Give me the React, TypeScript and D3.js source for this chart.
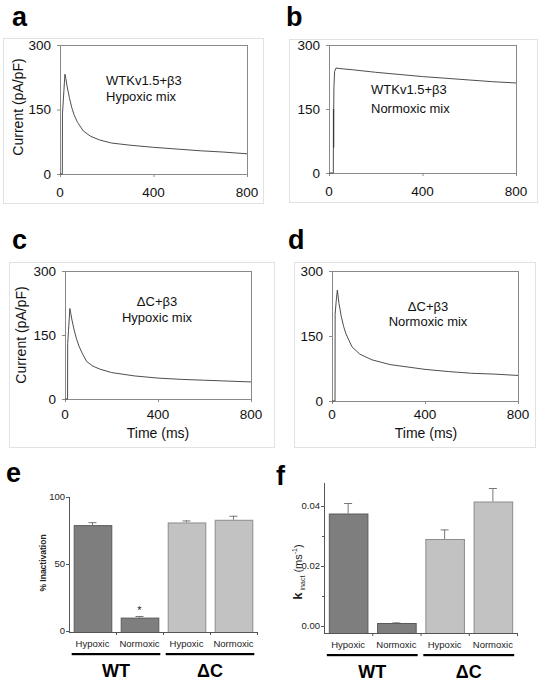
import React from "react";
import * as d3 from "d3";

const FONT = "'Liberation Sans', Arial, Helvetica, sans-serif";

// ---- Trace data (time ms, current pA/pF) ----
const traceA: [number, number][] = [
  [0, 0], [10, 0], [10.5, 140], [14, 170], [21, 232], [25, 222], [30, 205], [40, 178],
  [50, 155], [60, 138], [75, 120], [100, 100], [130, 88], [170, 79], [220, 72], [300, 67],
  [400, 62], [500, 58], [600, 54], [700, 51], [800, 47],
];
const traceB: [number, number][] = [
  [0, 0], [18.5, 0], [19, 150], [19.3, 60], [19.6, 150], [19.9, 60], [20.2, 150], [21, 200],
  [24, 238], [30, 246], [60, 244], [100, 242], [200, 236], [300, 231], [400, 226], [500, 222],
  [600, 218], [700, 214], [800, 211],
];
const traceC: [number, number][] = [
  [0, 0], [11, 0], [11.5, 130], [15, 160], [21, 212], [25, 200], [30, 185], [40, 160],
  [50, 140], [60, 124], [75, 106], [93, 88], [120, 77], [150, 70], [200, 62], [300, 54],
  [400, 49], [500, 46], [600, 44], [700, 42], [800, 40],
];
const traceD: [number, number][] = [
  [0, 0], [13, 0], [13.5, 200], [18, 230], [23, 256], [30, 225], [40, 195], [50, 172],
  [60, 155], [86, 125], [120, 108], [172, 95], [250, 84], [400, 73], [500, 68], [600, 64],
  [700, 62], [800, 59],
];
const traceXTicks = [0, 400, 800];
const traceYTicks = [0, 150, 300];

// ---- Bar data ----
const barCategories = ["WT-Hypoxic", "WT-Normoxic", "dC-Hypoxic", "dC-Normoxic"];
const barLabels = ["Hypoxic", "Normoxic", "Hypoxic", "Normoxic"];
const groupNames = ["WT", "ΔC"];
const inactMeans = [79, 10, 81, 83];
const inactErrs = [2.2, 1.2, 1.5, 3];
const inactTicks = [0, 50, 100];
const kMeans = [0.0375, 0.001, 0.029, 0.0415];
const kErrs = [0.0035, 0.0002, 0.0032, 0.0045];
const kTicks = [0, 0.02, 0.04];
const kMinorTicks = [0.01, 0.03];

type Rect = { x0: number; x1: number; y0: number; y1: number };

function TracePanel(props: {
  letter: string; lx: number; ly: number; box: Rect; plot: Rect; data: [number, number][];
  notes: string[]; noteX: number; noteY: number[]; noteAnchor: "start" | "middle";
  yTitle?: { x: number; y: number }; xTitle?: { x: number; y: number }; tickOff: number;
}) {
  const { letter, lx, ly, box, plot, data, notes, noteX, noteY, noteAnchor, yTitle, xTitle, tickOff } = props;
  const x = d3.scaleLinear().domain([0, 800]).range([plot.x0, plot.x1]);
  const y = d3.scaleLinear().domain([0, 300]).range([plot.y1, plot.y0]);
  const line = d3.line<[number, number]>().x((d) => x(d[0])).y((d) => y(d[1]));
  return (
    <g>
      <text x={lx} y={ly} fontSize={27} fontWeight="bold" fontFamily={FONT}>{letter}</text>
      <rect x={box.x0 + 0.5} y={box.y0 + 0.5} width={box.x1 - box.x0} height={box.y1 - box.y0}
        fill="none" stroke="#e2e2e2" strokeWidth={1} />
      <rect x={plot.x0 + 0.5} y={plot.y0 + 0.5} width={plot.x1 - plot.x0} height={plot.y1 - plot.y0}
        fill="none" stroke="#8a8a8a" strokeWidth={1} />
      {traceYTicks.map((t) => (
        <g key={"y" + t}>
          <line x1={plot.x0 - 3} x2={plot.x0} y1={y(t) + 0.5} y2={y(t) + 0.5} stroke="#8a8a8a" />
          <text x={plot.x0 - 9} y={y(t)} dy="0.36em" textAnchor="end" fontSize={13.5} fontFamily={FONT} fill="#111">{t}</text>
        </g>
      ))}
      {traceXTicks.map((t) => (
        <g key={"x" + t}>
          <line x1={x(t) + 0.5} x2={x(t) + 0.5} y1={plot.y1} y2={plot.y1 + 3} stroke="#8a8a8a" />
          <text x={x(t)} y={plot.y1 + tickOff} textAnchor="middle" fontSize={13.5} fontFamily={FONT} fill="#111">{t}</text>
        </g>
      ))}
      <path d={line(data) || ""} fill="none" stroke="#3a3a3a" strokeWidth={0.9} />
      {notes.map((n, i) => (
        <text key={i} x={noteX} y={noteY[i]} dy="0.36em" textAnchor={noteAnchor} fontSize={13} fontFamily={FONT} fill="#111">{n}</text>
      ))}
      {yTitle && (
        <text transform={`translate(${yTitle.x},${yTitle.y}) rotate(-90)`} textAnchor="middle" dy="0.36em"
          fontSize={14} fontFamily={FONT} fill="#111">Current (pA/pF)</text>
      )}
      {xTitle && (
        <text x={xTitle.x} y={xTitle.y} dy="0.36em" textAnchor="middle" fontSize={14} fontFamily={FONT} fill="#111">Time (ms)</text>
      )}
    </g>
  );
}

function BarPanel(props: {
  letter: string; lx: number; ly: number; xRange: [number, number]; axisY: number; axisTop: number;
  yDomain: [number, number]; yRange: [number, number]; means: number[]; errs: number[];
  ticks: number[]; minor?: number[]; fmt: (v: number) => string; yTitle: React.ReactNode;
  star?: boolean;
}) {
  const { letter, lx, ly, xRange, axisY, axisTop, yDomain, yRange, means, errs, ticks, minor, fmt, yTitle, star } = props;
  const x = d3.scaleBand<string>().domain(barCategories).range(xRange).paddingInner(0.2).paddingOuter(0.1);
  const y = d3.scaleLinear().domain(yDomain).range(yRange);
  const bw = x.bandwidth();
  const step = x.step();
  const fills = ["#7e7e7e", "#7e7e7e", "#c2c2c2", "#c2c2c2"];
  const strokes = ["#5a5a5a", "#5a5a5a", "#8c8c8c", "#8c8c8c"];
  const groups = [[0, 1], [2, 3]];
  return (
    <g fontFamily={FONT}>
      <text x={lx} y={ly} fontSize={27} fontWeight="bold">{letter}</text>
      {barCategories.map((c, i) => (
        <g key={c}>
          <line x1={x(c)! + bw / 2} x2={x(c)! + bw / 2} y1={y(means[i])} y2={y(means[i] + errs[i])} stroke="#777" />
          <line x1={x(c)! + bw / 2 - 4} x2={x(c)! + bw / 2 + 4} y1={y(means[i] + errs[i]) + 0.5} y2={y(means[i] + errs[i]) + 0.5} stroke="#777" />
          <rect x={x(c)! + 0.5} y={y(means[i]) + 0.5} width={bw} height={axisY - y(means[i])}
            fill={fills[i]} stroke={strokes[i]} strokeWidth={1} />
        </g>
      ))}
      <line x1={xRange[0] + 0.5} x2={xRange[0] + 0.5} y1={axisTop} y2={axisY + 0.5} stroke="#555" />
      <line x1={xRange[0]} x2={xRange[1]} y1={axisY + 0.5} y2={axisY + 0.5} stroke="#555" />
      {barCategories.map((c, i) => (
        <line key={"xt" + i} x1={xRange[0] + step * (i + 1) + 0.5} x2={xRange[0] + step * (i + 1) + 0.5}
          y1={axisY} y2={axisY + 3} stroke="#555" />
      ))}
      {ticks.map((t) => (
        <g key={"t" + t}>
          <line x1={xRange[0] - 3} x2={xRange[0]} y1={y(t) + 0.5} y2={y(t) + 0.5} stroke="#555" />
          <text x={xRange[0] - 4} y={y(t)} dy="0.36em" textAnchor="end" fontSize={9.5} fill="#222">{fmt(t)}</text>
        </g>
      ))}
      {(minor || []).map((t) => (
        <line key={"m" + t} x1={xRange[0] - 2} x2={xRange[0]} y1={y(t) + 0.5} y2={y(t) + 0.5} stroke="#555" />
      ))}
      {barLabels.map((l, i) => (
        <text key={"l" + i} x={x(barCategories[i])! + bw / 2} y={axisY + 12} dy="0.36em" textAnchor="middle" fontSize={9.5} fill="#222">{l}</text>
      ))}
      {groups.map((g, gi) => {
        const x0 = x(barCategories[g[0]])! - 2;
        const x1 = x(barCategories[g[1]])! + bw + 2;
        return (
          <g key={"g" + gi}>
            <rect x={x0} y={axisY + 21} width={x1 - x0} height={2.2} fill="#000" />
            <text x={(x0 + x1) / 2} y={axisY + 45} textAnchor="middle" fontSize={18} fontWeight="bold" fill="#000">{groupNames[gi]}</text>
          </g>
        );
      })}
      {star && (
        <text x={x(barCategories[1])! + bw / 2} y={y(means[1] + errs[1]) - 2} textAnchor="middle" fontSize={11} fill="#222">*</text>
      )}
      {yTitle}
    </g>
  );
}

export default function App() {
  return (
    <svg width={544} height={698} style={{ position: "absolute", left: 0, top: 0, background: "#fff" }}>
      <rect x={0} y={0} width={544} height={698} fill="#fff" />
      <TracePanel letter="a" lx={12} ly={26} box={{ x0: 3, x1: 263, y0: 38, y1: 203 }}
        plot={{ x0: 60, x1: 247, y0: 45, y1: 174 }} data={traceA} tickOff={23}
        notes={["WTKv1.5+β3", "Hypoxic mix"]} noteX={106} noteY={[80, 96]} noteAnchor="start"
        yTitle={{ x: 18, y: 107 }} />
      <TracePanel letter="b" lx={286} ly={26} box={{ x0: 289, x1: 537, y0: 39, y1: 202 }}
        plot={{ x0: 329, x1: 516, y0: 45, y1: 173 }} data={traceB} tickOff={23}
        notes={["WTKv1.5+β3", "Normoxic mix"]} noteX={371} noteY={[89, 108]} noteAnchor="start" />
      <TracePanel letter="c" lx={12} ly={249} box={{ x0: 9, x1: 274, y0: 262, y1: 447 }}
        plot={{ x0: 65, x1: 251, y0: 271, y1: 399 }} data={traceC} tickOff={20}
        notes={["ΔC+β3", "Hypoxic mix"]} noteX={157} noteY={[301, 317]} noteAnchor="middle"
        yTitle={{ x: 21, y: 335 }} xTitle={{ x: 158, y: 433 }} />
      <TracePanel letter="d" lx={288} ly={249} box={{ x0: 294, x1: 535, y0: 262, y1: 447 }}
        plot={{ x0: 332, x1: 518, y0: 271, y1: 401 }} data={traceD} tickOff={18}
        notes={["ΔC+β3", "Normoxic mix"]} noteX={428} noteY={[306, 321]} noteAnchor="middle"
        xTitle={{ x: 426, y: 433 }} />
      <BarPanel letter="e" lx={6} ly={482} xRange={[69, 257]} axisY={632} axisTop={497}
        yDomain={[0, 100]} yRange={[631, 497]} means={inactMeans} errs={inactErrs}
        ticks={inactTicks} fmt={(v) => String(v)} star
        yTitle={
          <text transform="translate(43,563) rotate(-90)" textAnchor="middle" dy="0.36em" fontSize={8.5} fontWeight="bold" fill="#222">% Inactivation</text>
        } />
      <BarPanel letter="f" lx={276} ly={485} xRange={[324, 517]} axisY={633} axisTop={483}
        yDomain={[0, 0.04]} yRange={[626, 506]} means={kMeans} errs={kErrs}
        ticks={kTicks} minor={kMinorTicks} fmt={(v) => v.toFixed(2)}
        yTitle={
          <text transform="translate(296,572) rotate(-90)" textAnchor="middle" dy="0.36em" fill="#222">
            <tspan fontSize={13} fontWeight="bold">k</tspan>
            <tspan fontSize={7} dy="3"> inact</tspan>
            <tspan fontSize={11} dy="-3"> (ms</tspan>
            <tspan fontSize={7} dy="-5">-1</tspan>
            <tspan fontSize={11} dy="5">)</tspan>
          </text>
        } />
    </svg>
  );
}
